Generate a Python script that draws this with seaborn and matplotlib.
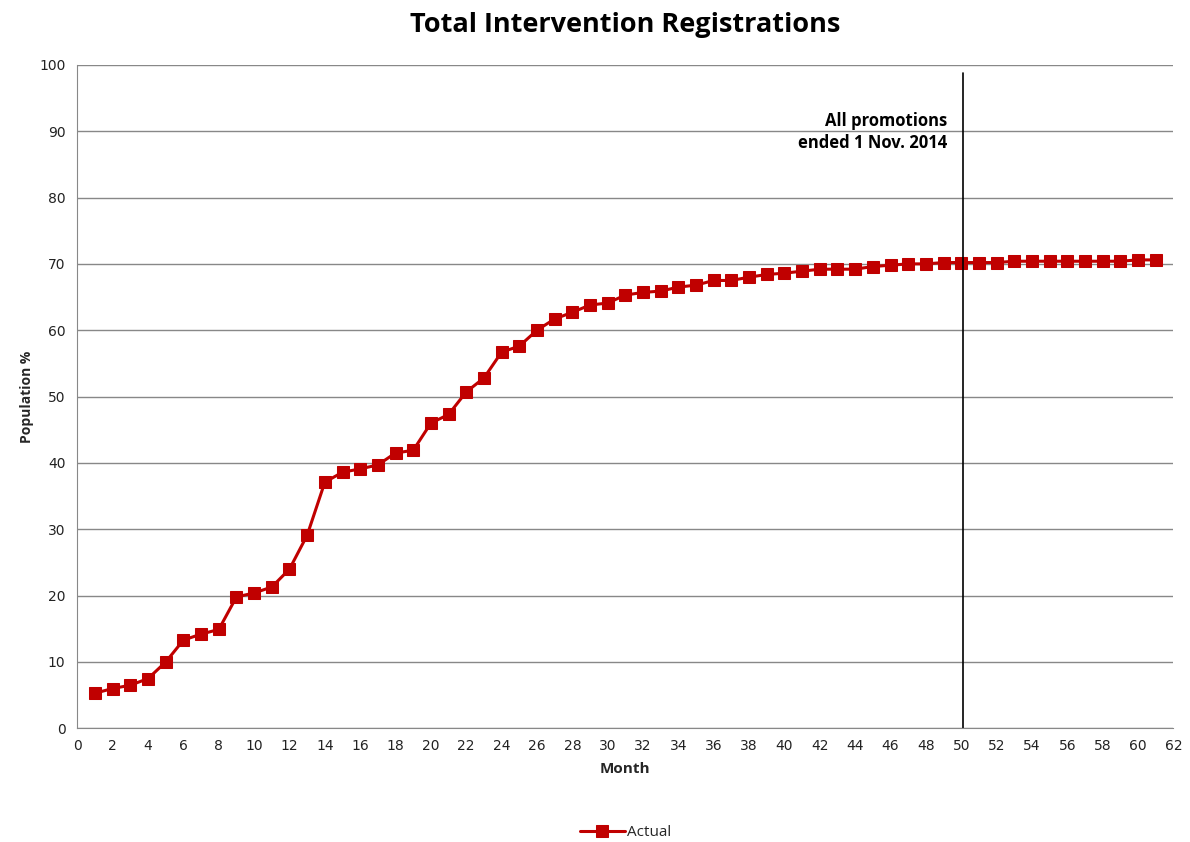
import matplotlib
matplotlib.use("Agg")
import matplotlib.pyplot as plt
import seaborn as sns
import pandas as pd

months = list(range(1, 62))
actual = [5.3, 6.0, 6.5, 7.5, 10.0, 13.3, 14.2, 14.9, 19.8, 20.4,
          21.3, 24.0, 29.1, 37.1, 38.6, 39.1, 39.7, 41.5, 41.9, 46.0,
          47.3, 50.7, 52.8, 56.7, 57.6, 60.0, 61.7, 62.7, 63.8, 64.1,
          65.3, 65.7, 65.9, 66.5, 66.8, 67.5, 67.5, 68.0, 68.4, 68.6,
          68.9, 69.2, 69.2, 69.2, 69.6, 69.8, 70.0, 70.0, 70.2, 70.2,
          70.2, 70.2, 70.4, 70.4, 70.4, 70.4, 70.4, 70.4, 70.4, 70.6,
          70.6]
promo_end_month = 50.1
note = "All promotions\nended 1 Nov. 2014"

df = pd.DataFrame({"Month": months, "Actual": actual})

sns.set_style("white")
plt.rcParams['font.family'] = ['DejaVu Sans']

fig = plt.figure(figsize=(11.9, 8.42), dpi=100)
ax = fig.add_axes([0.065, 0.135, 0.921, 0.788])

sns.lineplot(data=df, x="Month", y="Actual", marker="s", color="#C00000",
             markersize=8.5, markeredgecolor="#C00000", linewidth=2.2,
             label="Actual", ax=ax)

ax.plot([promo_end_month, promo_end_month], [0, 98.8], color="black", linewidth=1.2)
ax.text(49.2, 86.8, note, ha="right", va="bottom", fontsize=12,
        fontweight="bold", family="Open Sans", linespacing=1.3, color="black")

ax.set_xlim(0, 62)
ax.set_ylim(0, 100)
ax.set_xticks(range(0, 63, 2))
ax.set_yticks(range(0, 101, 10))
ax.yaxis.grid(True, color="#888888", linewidth=1)
ax.xaxis.grid(False)
for s in ["top", "right"]:
    ax.spines[s].set_visible(False)
for s in ["left", "bottom"]:
    ax.spines[s].set_color("#888888")
ax.tick_params(axis="both", direction="out", length=5, color="#888888",
               labelsize=10, labelcolor="#222222")
ax.tick_params(axis="x", pad=3)
for lab in ax.get_xticklabels() + ax.get_yticklabels():
    lab.set_family("DejaVu Sans")

ax.set_xlabel("Month", fontsize=11, fontweight="bold", family="Open Sans", labelpad=6)
ax.set_ylabel("Population %", fontsize=10, fontweight="bold", family="Open Sans")
ax.set_title("Total Intervention Registrations", fontsize=19.5, fontweight="bold",
             family="Open Sans", pad=24, color="black")

leg = ax.legend(loc="upper center", bbox_to_anchor=(0.5, -0.125), frameon=False,
                fontsize=11, handlelength=3.0, handletextpad=0.1)
for t in leg.get_texts():
    t.set_family("Open Sans")

fig.savefig("out.png", dpi=100)
